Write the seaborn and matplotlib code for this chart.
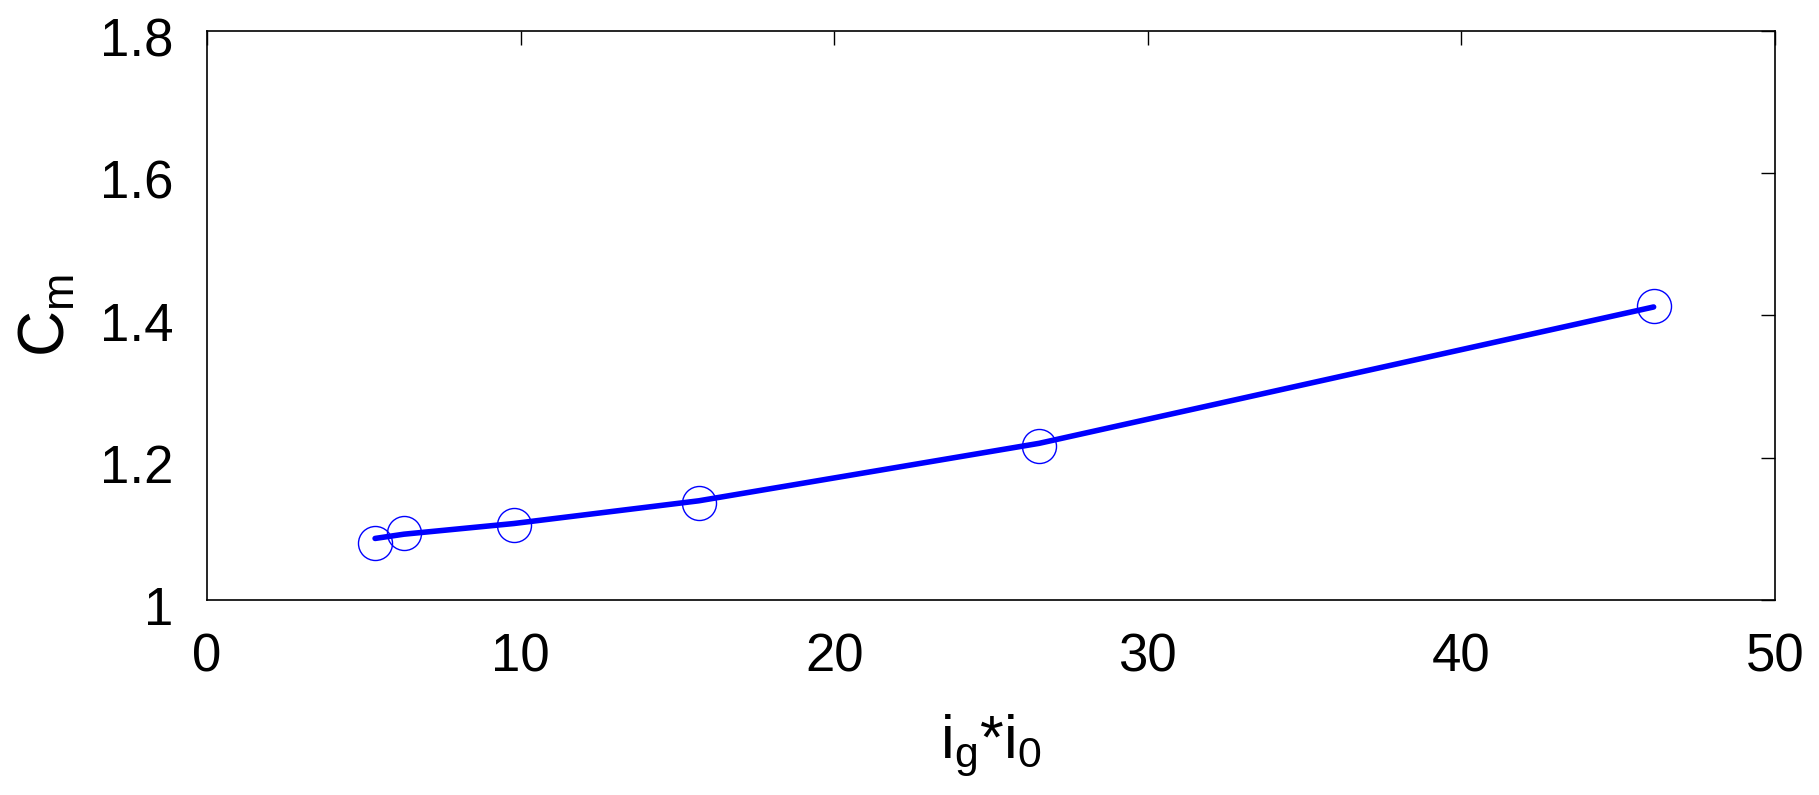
import matplotlib
matplotlib.use("Agg")
import matplotlib.pyplot as plt
import matplotlib.transforms as mtransforms
import seaborn as sns
import pandas as pd

# data
ratio = [5.36, 6.28, 9.78, 15.68, 26.54, 46.13]
cm_points = [1.080, 1.093, 1.105, 1.136, 1.216, 1.413]
cm_fit = [1.086, 1.092, 1.107, 1.139, 1.220, 1.412]
xticks = [0, 10, 20, 30, 40, 50]
yticks = [1.0, 1.2, 1.4, 1.6, 1.8]
yticklabels = ["1", "1.2", "1.4", "1.6", "1.8"]

sns.set_theme(style="white")
plt.rcParams['font.family'] = ['Liberation Sans', 'DejaVu Sans']
plt.rcParams['mathtext.fontset'] = 'custom'
plt.rcParams['mathtext.rm'] = 'Liberation Sans'
plt.rcParams['axes.labelcolor'] = 'black'
plt.rcParams['text.color'] = 'black'

df = pd.DataFrame({"x": ratio, "pts": cm_points, "fit": cm_fit})

fig = plt.figure(figsize=(18.19, 7.95), dpi=100)
ax = fig.add_axes([0.1138, 0.2459, 0.862, 0.7145])

sns.lineplot(data=df, x="x", y="fit", ax=ax, color="#0000ff", linewidth=4.0)
ax.plot(df["x"], df["pts"], linestyle="none", marker="o", markersize=24.5,
        markerfacecolor="none", markeredgecolor="#0000ff", markeredgewidth=1.0)

ax.set_xlim(0, 50)
ax.set_ylim(1.0, 1.8)
ax.set_xticks(xticks)
ax.set_xticklabels([str(t) for t in xticks])
ax.set_yticks(yticks)
ax.set_yticklabels(yticklabels)
ax.tick_params(direction="in", length=10, width=1.0, labelsize=38, colors="black",
               top=True, right=True)
ax.tick_params(axis="x", pad=24)
ax.tick_params(axis="y", pad=24)
shift = mtransforms.ScaledTranslation(0, -0.06, fig.dpi_scale_trans)
for lab in ax.get_yticklabels():
    lab.set_transform(lab.get_transform() + shift)
for s in ax.spines.values():
    s.set_color("black")
    s.set_linewidth(1.2)
    s.set_visible(True)

ax.set_xlabel(r"i$\mathregular{_g}$*i$\mathregular{_0}$", fontsize=44, labelpad=21, color="black")
ax.set_ylabel(r"$\mathregular{C_m}$", fontsize=46, labelpad=16, color="black")

fig.savefig("out.png", dpi=100)
